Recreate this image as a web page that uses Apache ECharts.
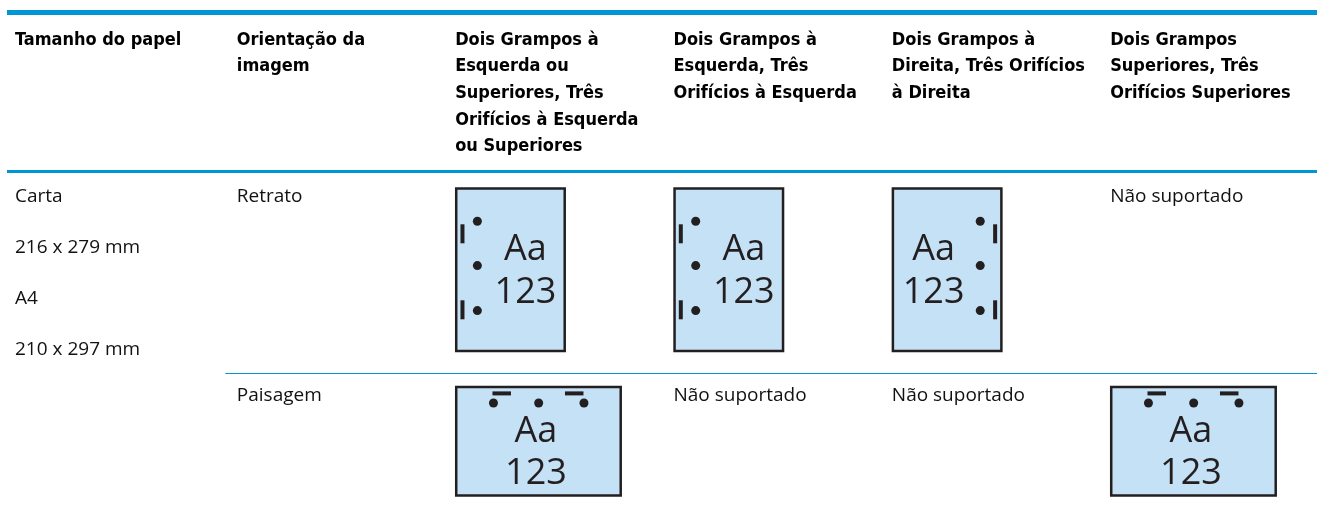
<!DOCTYPE html>
<html><head><meta charset="utf-8">
<script src="https://cdn.jsdelivr.net/npm/echarts@6/dist/echarts.min.js"></script>
<style>html,body{margin:0;padding:0;background:#fff}#c{width:1317px;height:514px}</style>
</head><body><div id="c"></div>
<script>
// ---- table content ----
const columnHeaders = [
  "Tamanho do papel",
  "Orientação da\nimagem",
  "Dois Grampos à\nEsquerda ou\nSuperiores, Três\nOrifícios à Esquerda\nou Superiores",
  "Dois Grampos à\nEsquerda, Três\nOrifícios à Esquerda",
  "Dois Grampos à\nDireita, Três Orifícios\nà Direita",
  "Dois Grampos\nSuperiores, Três\nOrifícios Superiores"
];
const paperSizes = ["Carta", "216 x 279 mm", "A4", "210 x 297 mm"];
const orientations = ["Retrato", "Paisagem"];
// finishing sample per orientation row, columns 3..6 ('left' | 'right' | 'top' | null = not supported)
const finishing = [
  ["left", "left", "right", null],
  ["top", null, null, "top"]
];
const unsupportedText = "Não suportado";
const sampleLines = ["Aa", "123"];

// ---- layout (pixels) ----
const BLUE = "#0096d6", INK = "#231f20", PAPER = "#c4e1f5";
const HEAD_FONT = 'bold 18px "Liberation Sans Narrow", "DejaVu Sans Condensed", sans-serif';
const BODY_FONT = '19px "Open Sans", sans-serif';
const SAMPLE_FONT = '36px "Open Sans", sans-serif';
const rules = [ {col: 0, y: 12.5, w: 5}, {col: 0, y: 171.5, w: 3}, {col: 1, y: 373.5, w: 1} ];
const headerFirstLine = 40, headerLineH = 26.7;
const rowTextY = [197, 395.5];
const paperLineGap = 51;
const iconTop = [187.3, 385.7];

const cells = [];
rules.forEach(r => cells.push({kind: "rule", col: r.col, y: r.y, w: r.w}));
columnHeaders.forEach((t, i) => cells.push({kind: "header", col: i, y: headerFirstLine, text: t}));
paperSizes.forEach((t, i) => cells.push({kind: "text", col: 0, y: rowTextY[0] + i * paperLineGap, text: t}));
orientations.forEach((t, r) => {
  cells.push({kind: "text", col: 1, y: rowTextY[r], text: t});
  finishing[r].forEach((f, j) => {
    if (f === null) cells.push({kind: "text", col: j + 2, y: rowTextY[r], text: unsupportedText});
    else cells.push({kind: r === 0 ? "portrait" : "landscape", col: j + 2, y: iconTop[r], side: f});
  });
});

function dot(cx, cy) { return {type: "circle", shape: {cx, cy, r: 4.5}, style: {fill: INK}}; }
function bar(x, y, w, h) { return {type: "rect", shape: {x, y, width: w, height: h}, style: {fill: INK}}; }
function sample(cx, cy1, cy2) {
  return [
    {type: "text", style: {x: cx, y: cy1, text: sampleLines[0], font: SAMPLE_FONT, fill: INK, align: "center", verticalAlign: "middle"}},
    {type: "text", style: {x: cx, y: cy2, text: sampleLines[1], font: SAMPLE_FONT, fill: INK, align: "center", verticalAlign: "middle"}}
  ];
}

function renderItem(params, api) {
  const c = cells[params.dataIndex];
  const p = api.coord([api.value(0), api.value(1)]);
  const bw = api.size([1, 0])[0];
  const left = p[0] - bw / 2;
  const y = p[1];
  const cs = params.coordSys;
  const pad = c.col === 0 ? 8 : 11.5;
  if (c.kind === "rule") {
    return {type: "rect", shape: {x: left, y: y - c.w / 2, width: cs.x + cs.width - left, height: c.w}, style: {fill: BLUE}};
  }
  if (c.kind === "header") {
    return {type: "text", style: {x: left + pad, y: y - headerLineH / 2, text: c.text, font: HEAD_FONT, fill: "#000",
      lineHeight: headerLineH, align: "left", verticalAlign: "top"}};
  }
  if (c.kind === "text") {
    return {type: "text", style: {x: left + pad, y: y, text: c.text, font: BODY_FONT, fill: "#111", align: "left", verticalAlign: "middle"}};
  }
  const bx = left + 11.3, by = y;
  if (c.kind === "portrait") {
    const W = 111, H = 165;
    const m = c.side === "right";
    const fx = v => m ? bx + W - v : bx + v;
    const ch = [
      {type: "rect", shape: {x: bx + 1.25, y: by + 1.25, width: W - 2.5, height: H - 2.5}, style: {fill: PAPER, stroke: INK, lineWidth: 2.5}},
      bar(m ? fx(9.5) : fx(5.5), by + 37, 4, 19),
      bar(m ? fx(9.5) : fx(5.5), by + 113, 4, 19),
      dot(fx(22.4), by + 34), dot(fx(22.4), by + 78.3), dot(fx(22.4), by + 123.3)
    ].concat(sample(m ? bx + 42 : bx + 70.5, by + 62.5, by + 105));
    return {type: "group", children: ch};
  }
  // landscape, staples on top
  const W = 167, H = 111;
  const ch = [
    {type: "rect", shape: {x: bx + 1.25, y: by + 1.25, width: W - 2.5, height: H - 2.5}, style: {fill: PAPER, stroke: INK, lineWidth: 2.5}},
    bar(bx + 37.5, by + 5.7, 18.5, 4), bar(bx + 110, by + 5.7, 18.5, 4),
    dot(bx + 38.5, by + 17.3), dot(bx + 83.7, by + 17.3), dot(bx + 129, by + 17.3)
  ].concat(sample(bx + 81, by + 45.7, by + 88.2));
  return {type: "group", children: ch};
}

const chart = echarts.init(document.getElementById("c"), null, {renderer: "canvas"});
chart.setOption({
  animation: false,
  backgroundColor: "#fff",
  grid: {left: 7, top: 0, width: 1323, height: 514},
  xAxis: {type: "category", data: columnHeaders.map((_, i) => i), show: false, boundaryGap: true},
  yAxis: {type: "value", min: 0, max: 514, inverse: true, show: false},
  series: [{
    type: "custom", clip: false, silent: true,
    renderItem,
    data: cells.map(c => [c.col, c.y])
  }]
});
</script></body></html>
